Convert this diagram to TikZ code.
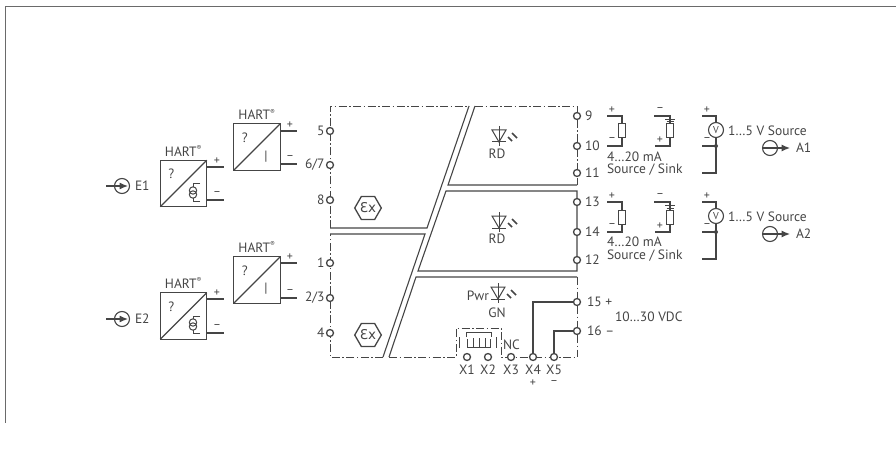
\documentclass[tikz,border=0pt]{standalone}
\usepackage{fontspec}
\setmainfont{PT Sans}
\newfontfamily\exfont{DejaVu Sans}
\usetikzlibrary{arrows.meta,shapes.geometric}
\definecolor{ink}{HTML}{454545}
\definecolor{framec}{HTML}{6A6A6A}
\tikzset{
  x=1pt,y=-1pt,
  every node/.style={text=ink,font=\fontsize{13.5}{14}\selectfont,inner sep=0pt,outer sep=0pt},
  wire/.style={draw=ink,line width=1.1pt},
  heavy/.style={draw=ink,line width=1.2pt},
  dd/.style={draw=ink,line width=.9pt,dash pattern=on 8pt off 2.5pt on 1.5pt off 2.5pt},
  term/.style={circle,draw=ink,line width=1.3pt,fill=white,minimum size=7pt},
  conv/.style={rectangle,draw=ink,line width=1.2pt,minimum size=46.5pt},
  lab/.style={anchor=west},
  sgn/.style={font=\fontsize{12}{12}\selectfont},
  meter/.style={circle,draw=ink,line width=1.1pt,fill=white,minimum size=15pt},
  res/.style={rectangle,draw=ink,line width=1pt,fill=white,minimum width=6.5pt,minimum height=14pt},
  exhex/.style={regular polygon,regular polygon sides=6,draw=ink,line width=1.3pt,minimum size=26pt,font=\exfont\fontsize{13.5}{14}\selectfont},
  ledmark/.pic={
    \draw[ink,line width=.9pt] (0,-10)--(0,10);
    \draw[ink,line width=1pt] (-7,-6)--(7,-6)--(0,6)--cycle;
    \draw[ink,line width=1pt] (-7,6)--(7,6);
    \draw[ink,line width=1.7pt] (9,1)--(13,5);
    \draw[ink,line width=1.7pt] (13,-3)--(18,2);
  },
  currentsrc/.pic={
    \draw[ink,line width=1pt] (7,-11)--(0,-11)--(0,-8);
    \draw[ink,line width=1pt] (7,6)--(0,6)--(0,3);
    \draw[ink,line width=1pt] (0,-4.5) circle (3.7);
    \draw[ink,line width=1pt] (0,-0.5) circle (3.7);
  },
}
\begin{document}
\begin{tikzpicture}
\useasboundingbox (0,0) rectangle (896,449);
% frame
\coordinate (fa) at (896,6.5); \coordinate (fb) at (5,6.5); \coordinate (fc) at (5,423);
\draw[framec,line width=.9pt] (fa)--(fb)--(fc);

% input converters
\node[conv] (c1) at (183.5,183.5) {};
\node[conv] (c2) at (257,147) {};
\node[conv] (c3) at (183.5,316) {};
\node[conv] (c4) at (257,280) {};
\foreach \b in {c1,c2,c3,c4} {
  \draw[wire] (\b.south west)--(\b.north east);
  \node at ([shift={(11,14)}]\b.north west) {?};
}
\node at (183.5,151) {HART\textsuperscript{\fontsize{7}{7}\selectfont®}};
\node at (257,114.5) {HART\textsuperscript{\fontsize{7}{7}\selectfont®}};
\node at (183.5,283) {HART\textsuperscript{\fontsize{7}{7}\selectfont®}};
\node at (257,247) {HART\textsuperscript{\fontsize{7}{7}\selectfont®}};
\node at (266,157) {|};
\node at (266,289) {|};
\pic at (193,195) {currentsrc};
\pic at (193,327) {currentsrc};

% wire stubs of converters
\coordinate (c1p) at (224,167); \coordinate (c1m) at (224,200);
\coordinate (c2p) at (297,131); \coordinate (c2m) at (297,164);
\coordinate (c3p) at (224,299); \coordinate (c3m) at (224,333);
\coordinate (c4p) at (297,263); \coordinate (c4m) at (297,298);
\foreach \b/\s in {c1/c1p,c1/c1m,c2/c2p,c2/c2m,c3/c3p,c3/c3m,c4/c4p,c4/c4m} \draw[wire] (\b.east|-\s)--(\s);
\foreach \s/\t in {c1p/+,c2p/+,c3p/+,c4p/+,c1m/–,c2m/–,c3m/–,c4m/–}
  \node[sgn] at ([shift={(-7,-6)}]\s) {\t};

% inputs
\node[meter,minimum size=15pt,fill=none] (e1) at (122,186) {};
\node[meter,minimum size=15pt,fill=none] (e2) at (122,319) {};
\foreach \n in {e1,e2} {
  \coordinate (\n a) at ([xshift=-16]\n.center);
  \draw[wire,-{Latex[length=8.5pt,width=7pt]}] (\n a)--([xshift=6]\n.center);
}
\node[lab] at (135,186) {E1};
\node[lab] at (135,319) {E2};

% module outline
\coordinate (tl) at (330,106); \coordinate (d1) at (469,106); \coordinate (d2) at (427,228);
\coordinate (l1) at (330,228); \coordinate (l2) at (330,234); \coordinate (d3) at (425,234);
\coordinate (d4) at (383,357); \coordinate (bl) at (330,357);
\coordinate (r1) at (475,106); \coordinate (tr) at (577,106); \coordinate (r2) at (448,185); \coordinate (r3) at (577,185);
\coordinate (r4) at (446,191); \coordinate (r5) at (577,191); \coordinate (r6) at (418,271); \coordinate (r7) at (577,271);
\coordinate (r8) at (416,277); \coordinate (r9) at (577,277); \coordinate (r10) at (389,357); \coordinate (br) at (577,357);
\draw[dd] (l1)--(tl)--(d1);
\draw[wire] (d1)--(d2)--(l1);
\draw[wire] (l2)--(d3)--(d4);
\draw[dd] (d4)--(bl)--(l2);
\draw[dd] (r1)--(tr)--(r3);
\draw[wire] (r1)--(r2)--(r3);
\draw[wire] (r5)--(r4)--(r6)--(r7)--cycle;
\draw[dd] (r9)--(br);
\draw[wire] (r9)--(r8)--(r10);

% fuse box on bottom edge
\coordinate (s1) at (456,357); \coordinate (s2) at (456,328); \coordinate (s3) at (501,328); \coordinate (s4) at (501,357);
\draw[dd] (r10)--(s1)--(s2)--(s3)--(s4)--(br);
\draw[ink,line width=1pt] (459,337)--(459,348) (496,337)--(496,348);
\draw[ink,line width=1pt] (466,337)--(466,332)--(491,332)--(491,337);
\draw[ink,line width=1pt] (467,339)--(467,347)--(490,347)--(490,339) (473,338)--(473,347) (479,338)--(479,347) (485,338)--(485,347);

% left terminals
\foreach \n/\y/\t in {t5/131/5,t67/165/6\slash 7,t8/200/8,t1/263/1,t23/298/2\slash 3,t4/333/4} {
  \node[term] (\n) at (330,\y) {};
  \node[anchor=east] at ([xshift=-5.5]\n.center) {\t};
}
% right terminals
\foreach \n/\y/\t in {t9/116/9,t10/146/10,t11/173/11,t13/202/13,t14/232/14,t12/260/12} {
  \node[term] (\n) at (577,\y) {};
  \node[lab] at ([xshift=8]\n.center) {\t};
}
\node[term] (t15) at (577,302) {};
\node[term] (t16) at (577,331) {};
\node[lab] at (587,302) {15 +};
\node[lab] at (587,331) {16 –};
\node[lab] at (615,317) {10…30 VDC};

% bottom terminals
\foreach \n/\x/\t in {x1/467/X1,x2/488/X2,x3/511/X3,x4/533/X4,x5/554/X5} {
  \node[term] (\n) at (\x,357) {};
  \node at (\x,369.5) {\t};
}
\node[sgn] at (533,383) {+};
\node[sgn] at (554,383) {–};
\node at (511.5,345) {NC};
\draw[heavy] (t15)-|(x4);
\draw[heavy] (t16)-|(x5);

% Ex marks
\node[exhex] (ex1) at (368,208) {Ɛx};
\node[exhex] (ex2) at (368,335) {Ɛx};

% LEDs
\pic at (499,136) {ledmark};
\pic at (499,222) {ledmark};
\pic at (498,293) {ledmark};
\node at (497,154) {RD};
\node at (497,239) {RD};
\node at (497,313) {GN};
\node[anchor=east] at (489,296) {Pwr};

% output loads, block A1 (dy=0) and A2 (dy=86)
\foreach \d/\a in {0/A1,86/A2} {
  \begin{scope}[yshift=-\d]
    \coordinate (la) at (607,116); \coordinate (lb) at (622,116); \coordinate (lc) at (622,146); \coordinate (ld) at (607,146);
    \draw[wire] (la)--(lb)--(lc)--(ld);
    \node[res] (ra) at (622,131) {};
    \node[sgn] at (612,110) {+};
    \node[sgn] at (612,140) {–};
    \coordinate (ma) at (654,116); \coordinate (mb) at (670,116); \coordinate (mc) at (670,146); \coordinate (md) at (655,146);
    \draw[wire] (ma)--(mb)--(mc)--(md);
    \node[res] (rb) at (670,131) {};
    \draw[ink,line width=1pt] (665,119.5)--(675,119.5) (666.5,122)--(673.5,122);
    \node[sgn] at (660,110) {–};
    \node[sgn] at (660,140) {+};
    \coordinate (va) at (702,116); \coordinate (vb) at (716,116); \coordinate (vd) at (716,146); \coordinate (ve) at (702,146);
    \coordinate (vf) at (716,173); \coordinate (vg) at (702,173);
    \draw[wire] (va)--(vb)--(vd)--(ve);
    \draw[wire] (vd)--(vf)--(vg);
    \fill[ink] (vd) circle (2);
    \node[meter] (vm) at (716,130) {\fontsize{10}{10}\selectfont V};
    \node[sgn] at (707,110) {+};
    \node[sgn] at (707,140) {–};
    \node[lab] at (728,131) {1…5 V Source};
    \node[circle,draw=ink,line width=1.1pt,minimum size=15pt] (o) at (770,148) {};
    \coordinate (oe) at (790,148);
    \draw[wire,-{Latex[length=8.5pt,width=7pt]}] (o.west)--(oe);
    \node[lab] at (796,148) {\a};
  \end{scope}
}
\node[lab] at (607,157) {4…20 mA};
\node[lab] at (607,170) {Source / Sink};
\node[lab] at (607,242) {4…20 mA};
\node[lab] at (607,256) {Source / Sink};
\end{tikzpicture}
\end{document}
